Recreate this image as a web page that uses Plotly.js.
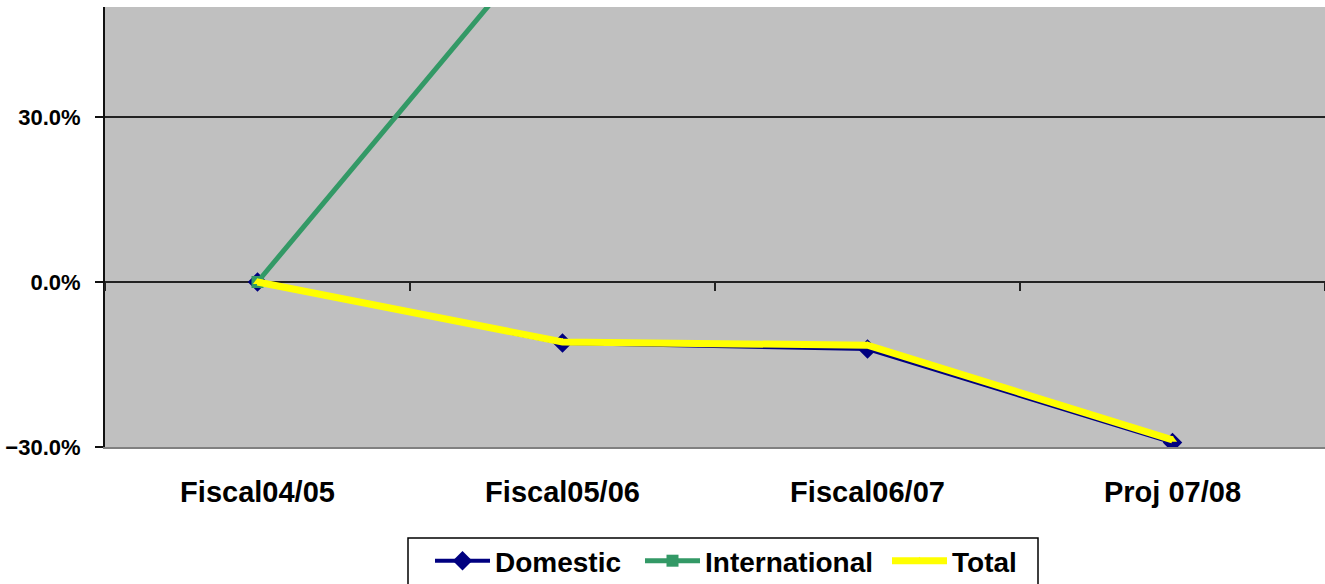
<!DOCTYPE html>
<html>
<head>
<meta charset="utf-8">
<script src="https://cdn.plot.ly/plotly-3.0.1.min.js"></script>
<style>html,body{margin:0;padding:0;background:#fff;}#chart{width:1325px;height:584px;}</style>
</head>
<body>
<div id="chart"></div>
<script>
const categories = ["Fiscal04/05", "Fiscal05/06", "Fiscal06/07", "Proj 07/08"];
const domestic = [0.0, -0.111, -0.122, -0.292];
const international = [0.0, 0.663, 0.95, 1.2];
const total = [0.0, -0.109, -0.115, -0.287];
const yTicks = [-0.3, 0.0, 0.3];

const FONT = "Liberation Sans, Arial, sans-serif";
const LEGEND_FONT = {family: FONT, size: 28, color: "#000000", weight: "bold"};

const traces = [
  {
    x: categories, y: domestic, name: "Domestic", type: "scatter", mode: "lines+markers",
    legend: "legend",
    line: {color: "#000080", width: 4},
    marker: {symbol: "diamond", size: 15, color: "#000080"},
    xaxis: "x", yaxis: "y"
  },
  {
    x: categories, y: international, name: "International", type: "scatter", mode: "lines+markers",
    legend: "legend2",
    line: {color: "#339966", width: 5},
    marker: {symbol: "square", size: 12, color: "#339966"},
    xaxis: "x", yaxis: "y"
  },
  {
    x: categories, y: total, name: "Total", type: "scatter", mode: "lines+markers",
    legend: "legend3",
    line: {color: "#FFFF00", width: 7},
    marker: {symbol: "triangle-up", size: 8, color: "#FFFF00"},
    xaxis: "x", yaxis: "y"
  },
  {
    x: categories, y: categories.map(() => null), type: "scatter", mode: "markers",
    showlegend: false, hoverinfo: "skip", xaxis: "x2", yaxis: "y"
  }
];

function legendAt(leftPx) {
  return {
    orientation: "h", xref: "container", yref: "container",
    x: leftPx / 1325, xanchor: "left", y: 48 / 584, yanchor: "top",
    borderwidth: 0, bgcolor: "rgba(0,0,0,0)", itemwidth: 55,
    font: LEGEND_FONT
  };
}

const layout = {
  width: 1325, height: 584,
  margin: {l: 105, r: 0, t: 7, b: 137},
  paper_bgcolor: "#ffffff",
  plot_bgcolor: "#C0C0C0",
  showlegend: true,
  font: {family: FONT, color: "#000000"},
  xaxis: {
    type: "category", categoryarray: categories, range: [-0.5, 3.5],
    showgrid: false, zeroline: false,
    showline: true, linecolor: "#808080", linewidth: 2,
    ticks: "", ticklabelstandoff: 18,
    tickfont: {family: FONT, size: 29, color: "#000000", weight: "bold"}
  },
  xaxis2: {
    type: "category", categoryarray: categories, range: [-0.5, 3.5],
    overlaying: "x", anchor: "free", position: 0.375, side: "bottom",
    showgrid: false, zeroline: false, showline: false,
    showticklabels: false, ticks: "outside", tickson: "boundaries",
    ticklen: 8, tickwidth: 2, tickcolor: "#222222"
  },
  yaxis: {
    range: [-0.3, 0.5],
    tickvals: yTicks, tickformat: ".1%",
    showgrid: true, gridcolor: "#222222", gridwidth: 2,
    zeroline: true, zerolinecolor: "#222222", zerolinewidth: 2,
    showline: true, linecolor: "#111111", linewidth: 2,
    ticks: "outside", ticklen: 8, tickwidth: 2, tickcolor: "#111111",
    ticklabelstandoff: 10,
    tickfont: {family: FONT, size: 22, color: "#000000", weight: "bold"}
  },
  legend: legendAt(430),
  legend2: legendAt(640),
  legend3: legendAt(887),
  shapes: [
    {type: "rect", xref: "paper", yref: "paper",
     x0: (408 - 105) / 1220, x1: (1038 - 105) / 1220,
     y0: -0.32, y1: (447 - 538) / 440,
     line: {color: "#000000", width: 1.5}, fillcolor: "rgba(0,0,0,0)", layer: "above"}
  ]
};

Plotly.newPlot("chart", traces, layout, {displayModeBar: false, staticPlot: true});
</script>
</body>
</html>
